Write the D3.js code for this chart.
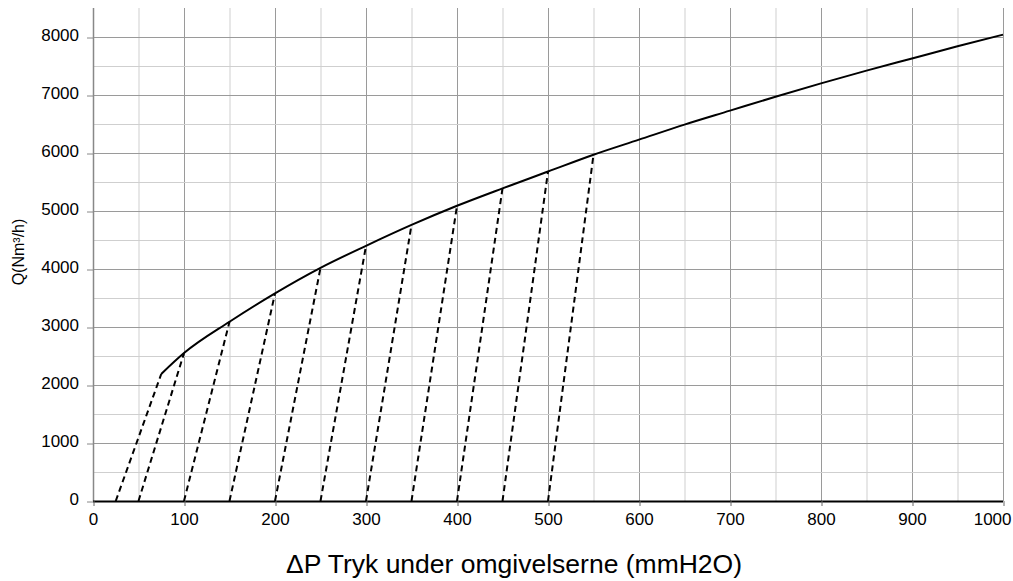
<!DOCTYPE html>
<html>
<head>
<meta charset="utf-8">
<script src="https://cdn.jsdelivr.net/npm/d3@7"></script>
<style>
  body { margin: 0; background: #fff; }
  svg { display: block; font-family: Arial, "Liberation Sans", sans-serif; }
</style>
</head>
<body>
<div id="chart"></div>
<script>
// curve: pressure (mmH2O) vs flow (Nm3/h)
const curveP = [75, 100, 150, 200, 250, 300, 350, 400, 450, 500, 550, 600, 650, 700, 750, 800, 850, 900, 950, 1000];
const curveQ = [2190, 2550, 3090, 3580, 4020, 4400, 4760, 5090, 5390, 5680, 5970, 6230, 6490, 6730, 6970, 7200, 7420, 7630, 7840, 8040];

// dashed lines start on the x axis and end on curve point of same index
const dashStartP = [25, 50, 100, 150, 200, 250, 300, 350, 400, 450, 500];

const xTicks = [0, 100, 200, 300, 400, 500, 600, 700, 800, 900, 1000];
const yTicks = [0, 1000, 2000, 3000, 4000, 5000, 6000, 7000, 8000];
const xLabel = '\u0394P Tryk under omgivelserne (mmH2O)';
const yLabel = 'Q(Nm\u00b3/h)';

const width = 1013;
const height = 581;
const marginLeft = 93;
const marginRight = 10;
const marginTop = 8;
const marginBottom = 80;

const scaleX = d3.scaleLinear()
  .domain([0, 1000])
  .range([marginLeft, width - marginRight]);

const scaleY = d3.scaleLinear()
  .domain([0, 8500])
  .range([height - marginBottom, marginTop]);

const $svg = d3.select('#chart').append('svg')
  .attr('width', width)
  .attr('height', height);

// grid
const $grid = $svg.append('g').attr('class', 'g-grid');

$grid.selectAll('.grid-x')
  .data(d3.range(50, 1001, 50))
  .enter()
  .append('line')
  .attr('x1', d => scaleX(d) + 0.5)
  .attr('x2', d => scaleX(d) + 0.5)
  .attr('y1', scaleY(8500))
  .attr('y2', scaleY(0))
  .attr('stroke', d => d % 100 === 0 ? '#9a9a9a' : '#cfcfcf')
  .attr('stroke-width', 1);

$grid.selectAll('.grid-y')
  .data(d3.range(500, 8001, 500))
  .enter()
  .append('line')
  .attr('x1', scaleX(0))
  .attr('x2', scaleX(1000))
  .attr('y1', d => scaleY(d) + 0.5)
  .attr('y2', d => scaleY(d) + 0.5)
  .attr('stroke', d => d % 1000 === 0 ? '#9a9a9a' : '#cfcfcf')
  .attr('stroke-width', 1);

// y axis
const $yAxis = $svg.append('g')
  .attr('transform', `translate(${scaleX(0)},0)`)
  .call(d3.axisLeft(scaleY).tickValues(yTicks).tickFormat(d3.format('d')).tickSize(6).tickPadding(8));

$yAxis.select('.domain')
  .attr('d', `M0.5,${scaleY(8500)}V${scaleY(0)}`)
  .attr('stroke', '#888')
  .attr('stroke-width', 1.5);
$yAxis.selectAll('.tick line').attr('stroke', '#888').attr('transform', 'translate(0,0.5)');
$yAxis.selectAll('.tick text')
  .attr('font-size', 17)
  .attr('fill', '#000')
  .attr('dy', '0.2em');

// x axis
const $xAxis = $svg.append('g')
  .attr('transform', `translate(0,${scaleY(0)})`)
  .call(d3.axisBottom(scaleX).tickValues(xTicks).tickFormat(d3.format('d')).tickSize(5).tickPadding(7));

$xAxis.select('.domain')
  .attr('d', `M${scaleX(0)},0.5H${scaleX(1000)}`)
  .attr('stroke', '#000')
  .attr('stroke-width', 2.2);
$xAxis.selectAll('.tick line').attr('stroke', '#666').attr('transform', 'translate(0.5,0)');
$xAxis.selectAll('.tick text')
  .attr('font-size', 17)
  .attr('fill', '#000');

// last label is pulled in so it stays on the page
$xAxis.selectAll('.tick text')
  .filter(d => d === 1000)
  .attr('text-anchor', 'end')
  .attr('x', 8);

// dashed lines
const $vis = $svg.append('g').attr('class', 'g-vis');

$vis.selectAll('.dash')
  .data(dashStartP)
  .enter()
  .append('line')
  .attr('x1', d => scaleX(d))
  .attr('y1', scaleY(0))
  .attr('x2', (d, i) => scaleX(curveP[i]))
  .attr('y2', (d, i) => scaleY(curveQ[i]))
  .attr('stroke', '#000')
  .attr('stroke-width', 2)
  .attr('stroke-dasharray', '6,4');

// curve
const line = d3.line()
  .x(d => scaleX(d[0]))
  .y(d => scaleY(d[1]))
  .curve(d3.curveMonotoneX);

$vis.append('path')
  .datum(d3.zip(curveP, curveQ))
  .attr('d', line)
  .attr('fill', 'none')
  .attr('stroke', '#000')
  .attr('stroke-width', 2);

// titles
$svg.append('text')
  .attr('x', 514)
  .attr('y', 573)
  .attr('text-anchor', 'middle')
  .attr('font-size', 26.5)
  .text(xLabel);

$svg.append('text')
  .attr('transform', 'translate(24,252) rotate(-90)')
  .attr('text-anchor', 'middle')
  .attr('font-size', 16)
  .text(yLabel);
</script>
</body>
</html>
